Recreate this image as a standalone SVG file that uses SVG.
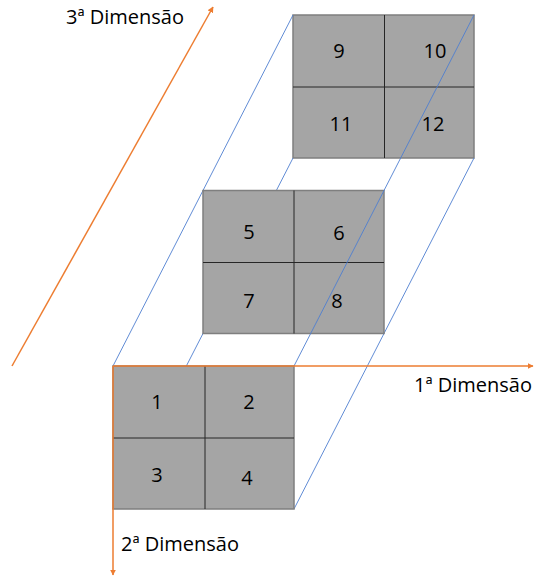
<svg xmlns="http://www.w3.org/2000/svg" width="534" height="576" viewBox="0 0 534 576">
<style>
.cell{fill:#a5a5a5;stroke:#7f7f7f;stroke-width:1.5}
.div{stroke:#262626;stroke-width:1;fill:none}
.edge{stroke:#4f7fd0;stroke-width:0.9;fill:none}
.axis{stroke:#ed7d31;stroke-width:1.5;fill:none}
.num{font-family:"Open Sans","Liberation Sans",sans-serif;font-size:20px;fill:#000;text-anchor:middle}
.lbl{font-family:"Open Sans","Liberation Sans",sans-serif;font-size:20px;fill:#000}
</style>
<defs>
<marker id="ah" viewBox="0 0 10 10" refX="9" refY="5" markerWidth="6" markerHeight="6" orient="auto" markerUnits="userSpaceOnUse">
<path d="M0,0 L10,5 L0,10 z" fill="#ed7d31"/>
</marker>
</defs>
<g id="grid-back">
<rect class="cell" x="293" y="15" width="181" height="143"/>
<line class="div" x1="384.5" y1="15" x2="384.5" y2="158"/>
<line class="div" x1="293" y1="87" x2="474" y2="87"/>
<text class="num" x="339" y="58">9</text>
<text class="num" x="435" y="58">10</text>
<text class="num" x="341" y="131">11</text>
<text class="num" x="433" y="131">12</text>
</g>
<g id="connectors-hidden">
<line class="edge" x1="113" y1="366" x2="293" y2="15"/>
<line class="edge" x1="113" y1="509" x2="293" y2="158"/>
<line class="edge" x1="294" y1="509" x2="474" y2="158"/>
</g>
<g id="grid-middle">
<rect class="cell" x="203" y="190.5" width="181" height="143"/>
<line class="div" x1="294" y1="190.5" x2="294" y2="333.5"/>
<line class="div" x1="203" y1="262.5" x2="384" y2="262.5"/>
<text class="num" x="249" y="239">5</text>
<text class="num" x="339" y="240">6</text>
<text class="num" x="249" y="308">7</text>
<text class="num" x="337" y="308">8</text>
</g>
<g id="connectors">
<line class="edge" x1="294" y1="366" x2="474" y2="15"/>
</g>
<g id="grid-front">
<rect class="cell" x="113" y="366" width="181" height="143"/>
<line class="div" x1="205" y1="366" x2="205" y2="509"/>
<line class="div" x1="113" y1="438" x2="294" y2="438"/>
<text class="num" x="157" y="409">1</text>
<text class="num" x="249" y="409">2</text>
<text class="num" x="157" y="482">3</text>
<text class="num" x="247" y="485">4</text>
</g>
<g id="axes">
<line class="axis" x1="113" y1="366" x2="533" y2="366" marker-end="url(#ah)"/>
<line class="axis" x1="113" y1="366" x2="113" y2="575" marker-end="url(#ah)"/>
<line class="axis" x1="12" y1="366" x2="213" y2="7" marker-end="url(#ah)"/>
</g>
<text class="lbl" x="66" y="24">3ª Dimensão</text>
<text class="lbl" x="414" y="392">1ª Dimensão</text>
<text class="lbl" x="121" y="551">2ª Dimensão</text>
</svg>
